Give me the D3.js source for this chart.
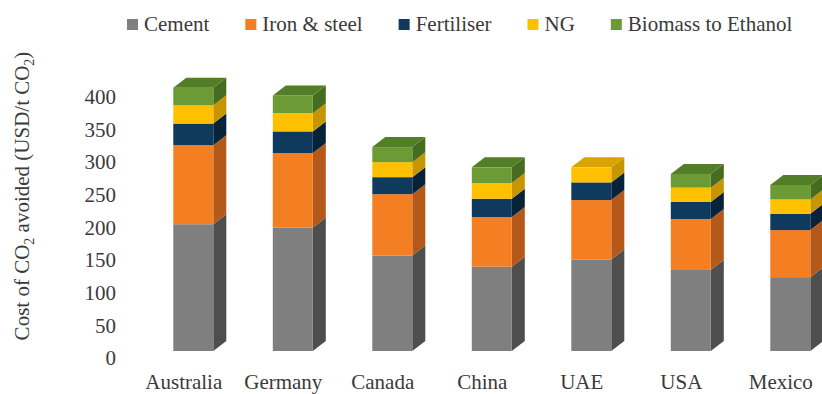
<!DOCTYPE html>
<html>
<head>
<meta charset="utf-8">
<script src="https://cdn.jsdelivr.net/npm/d3@7"></script>
<style>
  html, body { margin: 0; padding: 0; background: #fff; }
  svg { display: block; }
  svg text { font-family: 'Liberation Serif', 'Times New Roman', serif; }
</style>
</head>
<body>
<svg id="chart" width="822" height="394"></svg>
<script>
// Countries along the x axis
const countries = ["Australia", "Germany", "Canada", "China", "UAE", "USA", "Mexico"];
// Series (stacked bottom to top), USD per tonne CO2 avoided
const seriesNames = ["Cement", "Iron & steel", "Fertiliser", "NG", "Biomass to Ethanol"];
const cement    = [194, 189, 146, 129, 140, 124, 113];
const ironSteel = [121, 114,  94,  76,  91,  78,  72];
const fertiliser= [ 33,  33,  26,  28,  27,  26,  25];
const ng        = [ 28,  28,  23,  24,  23,  22,  22];
const biomass   = [ 27,  27,  23,  24,   0,  21,  22];
const yTicks    = [0, 50, 100, 150, 200, 250, 300, 350, 400];

// front / side / top face colours for each series
const faceColors = [
  { front: "#7f7f7f", side: "#4e4e4e", top: "#9a9a9a" },
  { front: "#f47e22", side: "#b5591a", top: "#d86c1a" },
  { front: "#0f3a5e", side: "#08223a", top: "#0b2e4c" },
  { front: "#ffc000", side: "#c79500", top: "#d9a300" },
  { front: "#6c9a34", side: "#466c1f", top: "#537e28" }
];

const FONT = "'Liberation Serif', 'Times New Roman', serif";
const textColor = "#3a3a3a";
const svg = d3.select("#chart");

const rows = countries.map((c, i) => ({
  country: c,
  "Cement": cement[i],
  "Iron & steel": ironSteel[i],
  "Fertiliser": fertiliser[i],
  "NG": ng[i],
  "Biomass to Ethanol": biomass[i]
}));
const stacked = d3.stack().keys(seriesNames)(rows);

// scales
const x = d3.scaleBand().domain(countries).range([173.3, 810.3]).paddingInner(0.598).paddingOuter(0);
const y = d3.scaleLinear().domain([0, 400]).range([351, 351 - 400 * 0.6535]);
const depthX = 13, depthY = 10;

// 3-D stacked columns: side face, front face, and a top cap on the highest segment
const bars = svg.append("g");
countries.forEach((c, i) => {
  const g = bars.append("g");
  const x0 = x(c), x1 = x0 + x.bandwidth();
  let topIdx = -1;
  stacked.forEach((s, si) => { if (s[i][1] - s[i][0] > 0) topIdx = si; });
  stacked.forEach((s, si) => {
    const v0 = s[i][0], v1 = s[i][1];
    if (v1 - v0 <= 0) return;
    const yb = y(v0), yt = y(v1);
    const col = faceColors[si];
    g.append("path")
      .attr("d", `M${x1},${yt} L${x1 + depthX},${yt - depthY} L${x1 + depthX},${yb - depthY} L${x1},${yb} Z`)
      .attr("fill", col.side);
    g.append("rect")
      .attr("x", x0).attr("y", yt)
      .attr("width", x.bandwidth()).attr("height", yb - yt)
      .attr("fill", col.front);
    if (si === topIdx) {
      g.append("path")
        .attr("d", `M${x0},${yt} L${x0 + depthX},${yt - depthY} L${x1 + depthX},${yt - depthY} L${x1},${yt} Z`)
        .attr("fill", col.top);
    }
  });
});

// value axis (labels sit along the front floor edge, slightly below the wall)
const axisG = svg.append("g")
  .attr("transform", "translate(119,7)")
  .attr("font-family", FONT)
  .call(d3.axisLeft(y).tickValues(yTicks).tickSize(0).tickPadding(3));
axisG.attr("font-family", FONT);
axisG.select(".domain").remove();
axisG.selectAll("text")
  .attr("font-family", FONT)
  .attr("font-size", 21)
  .attr("fill", textColor);

// category labels
svg.append("g").selectAll("text")
  .data(countries)
  .join("text")
  .attr("x", d => x(d) + 10.5)
  .attr("y", 389)
  .attr("text-anchor", "middle")
  .attr("font-family", FONT)
  .attr("font-size", 21)
  .attr("fill", textColor)
  .text(d => d);

// y-axis title
const title = svg.append("text")
  .attr("transform", "translate(29,196) rotate(-90)")
  .attr("text-anchor", "middle")
  .attr("font-family", FONT)
  .attr("font-size", 21)
  .attr("fill", textColor);
title.append("tspan").text("Cost of CO");
title.append("tspan").attr("font-size", 14).attr("dy", 5).text("2");
title.append("tspan").attr("dy", -5).text(" avoided (USD/t CO");
title.append("tspan").attr("font-size", 14).attr("dy", 5).text("2");
title.append("tspan").attr("dy", -5).text(")");

// legend
const legend = svg.append("g");
let lx = 127;
seriesNames.forEach((name, si) => {
  legend.append("rect")
    .attr("x", lx).attr("y", 19).attr("width", 11).attr("height", 11)
    .attr("fill", faceColors[si].front);
  const t = legend.append("text")
    .attr("x", lx + 17).attr("y", 31)
    .attr("font-family", FONT)
    .attr("font-size", 21)
    .attr("fill", textColor)
    .text(name);
  lx += 17 + t.node().getComputedTextLength() + 36;
});
</script>
</body>
</html>
